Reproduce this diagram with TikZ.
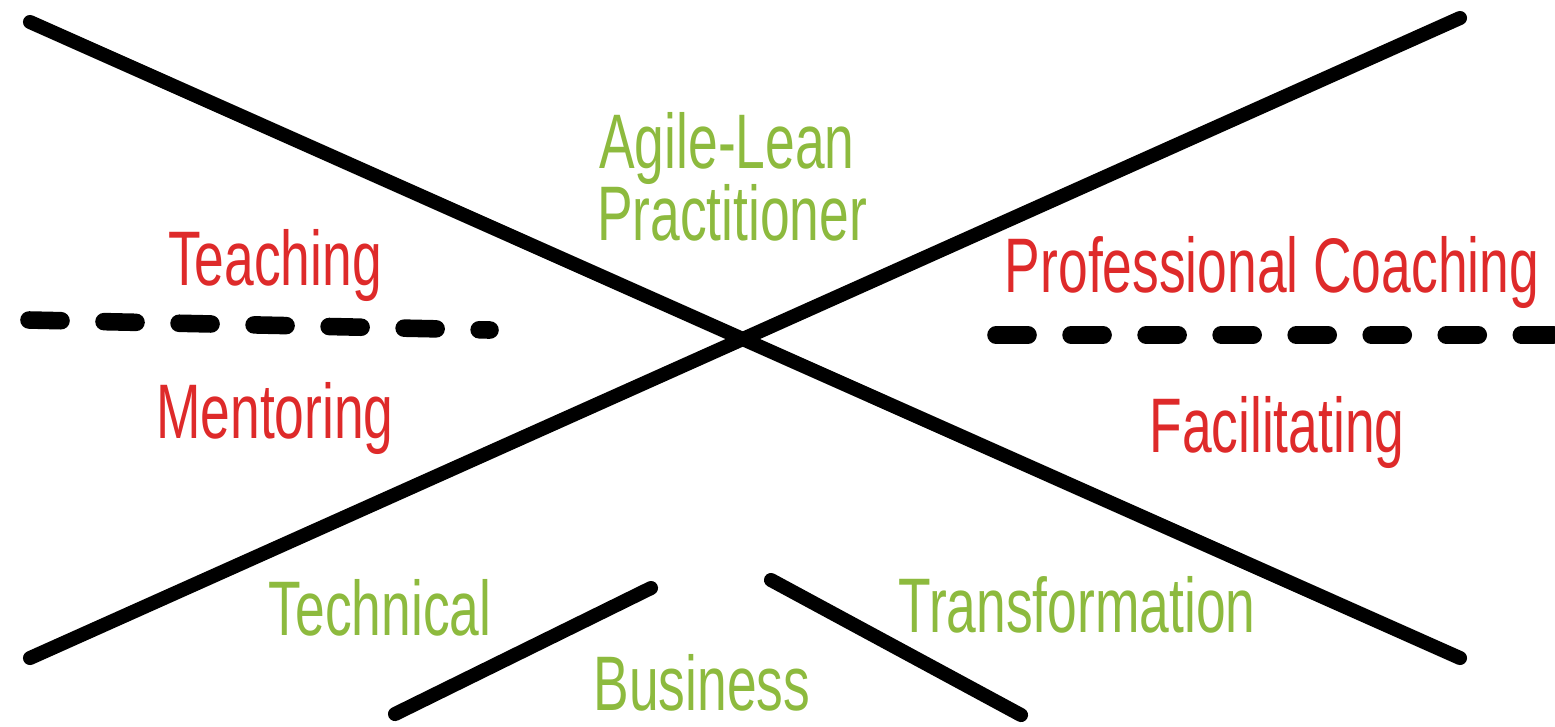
\documentclass[tikz,border=0pt]{standalone}
\usepackage{fontspec}
\newfontfamily\handfont[FakeStretch=0.69]{Liberation Sans}
\definecolor{skillred}{RGB}{222,42,42}
\definecolor{skillgreen}{RGB}{141,186,62}

\begin{document}
\begin{tikzpicture}[x=0.01cm, y=-0.01cm,
	bar/.style = {line width = 4pt, line cap = round},
	split/.style = {line width = 5pt, line cap = round, dash pattern = on 0.32cm off 0.43cm},
	redtext/.style = {anchor = base, text = skillred, font = \handfont\fontsize{22}{26}\selectfont},
	greentext/.style = {anchor = base, text = skillgreen, font = \handfont\fontsize{22}{26}\selectfont}]
\useasboundingbox (0,0) rectangle (1555,726);

\draw[bar] (30,22)--(1460,658);
\draw[bar] (30,658)--(1460,18);
\draw[bar] (395,714)--(651,588);
\draw[bar] (771,580)--(1021,715);

\draw[split] (29,320)--(490,330);
\draw[split] (996,335)--(1575,335);

\node[greentext] (agile) at (727,168) {Agile-Lean};
\node[greentext] (practitioner) at (732,240) {Practitioner};
\node[redtext] (teaching) at (275,285) {Teaching};
\node[redtext] (mentoring) at (275,438) {Mentoring};
\node[redtext] (coaching) at (1272,292) {Professional Coaching};
\node[redtext] (facilitating) at (1277,452) {Facilitating};
\node[greentext] (technical) at (380,635) {Technical};
\node[greentext] (transformation) at (1077,632) {Transformation};
\node[greentext] (business) at (702,710) {Business};
\end{tikzpicture}
\end{document}
